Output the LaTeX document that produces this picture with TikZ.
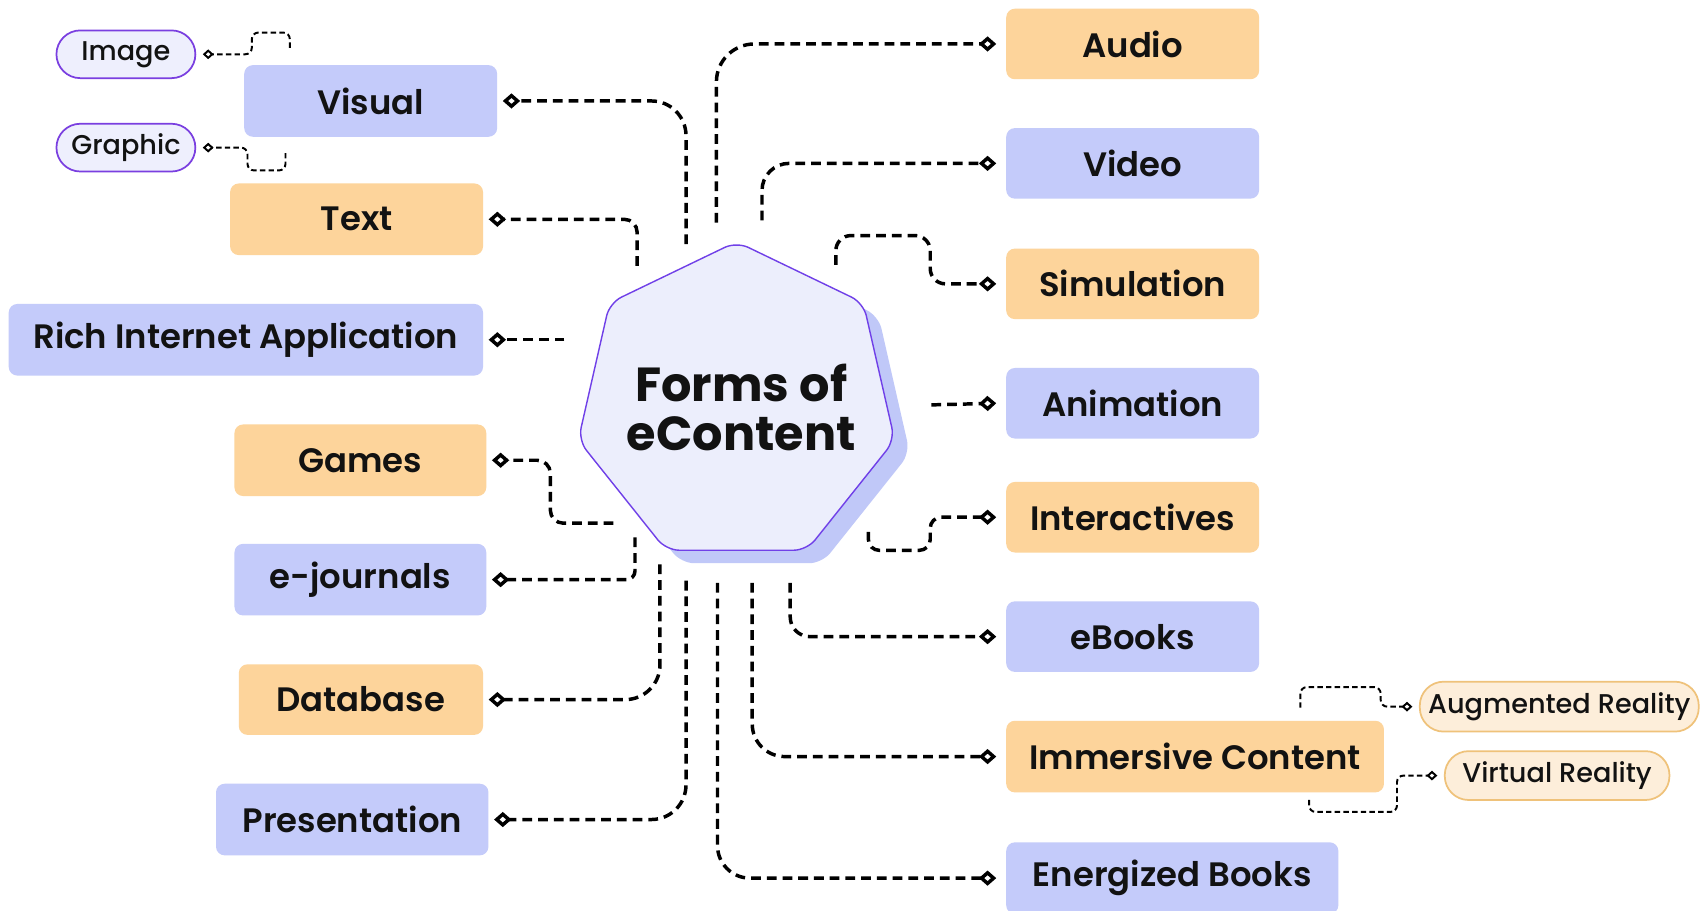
\documentclass[tikz,border=0pt]{standalone}
\usepackage{fontspec}
\setmainfont{Poppins}[UprightFont=* SemiBold, BoldFont=* Bold]
\newfontfamily\pillfont{Poppins}[UprightFont=* Medium]
\usetikzlibrary{shapes.geometric,arrows.meta}
\definecolor{boxblue}{HTML}{C4CBFA}
\definecolor{boxorange}{HTML}{FDD49B}
\definecolor{pilllav}{HTML}{EEEFFD}
\definecolor{pillpurple}{HTML}{7A3FE0}
\definecolor{pillcream}{HTML}{FDEEDA}
\definecolor{pillorange}{HTML}{EFC27A}
\definecolor{hubfill}{HTML}{ECEEFC}
\definecolor{hubline}{HTML}{7040E8}
\definecolor{hubshadow}{HTML}{C0C8F8}
\definecolor{ink}{HTML}{121212}
\tikzset{
  box/.style={rounded corners=8pt, inner sep=0pt, text=ink, font=\fontsize{31.2}{36}\selectfont},
  bluebox/.style={box, fill=boxblue},
  orangebox/.style={box, fill=boxorange},
  pill/.style={rounded corners=22pt, line width=1.6pt, inner sep=0pt, text=ink, font=\pillfont\fontsize{25}{29}\selectfont},
  pillL/.style={pill, draw=pillpurple, fill=pilllav},
  pillR/.style={pill, draw=pillorange, fill=pillcream},
  conn/.style={line width=3.2pt, dash pattern=on 9pt off 5.5pt, -{Diamond[open,length=16pt,width=14pt]}},
  thin/.style={line width=1.8pt, dash pattern=on 5pt off 3pt, -{Diamond[open,length=10pt,width=9pt]}},
}
\begin{document}
\begin{tikzpicture}[x=1pt,y=-1pt]
\useasboundingbox[fill=white] (0,0) rectangle (1568,839);
% hub
\node[regular polygon, regular polygon sides=7, minimum size=299pt, fill=hubshadow, rounded corners=12pt] (hubshadow) at (692.5,384.2) {};
\node[regular polygon, regular polygon sides=7, minimum size=299pt, fill=hubfill, draw=hubline, line width=1.3pt, rounded corners=12pt] (hub) at (678.5,372.2) {};
\node[text=ink, font=\bfseries\fontsize{44}{45}\selectfont, align=center] (title) at (683,375) {Forms of\\eContent};
% left boxes
\node[bluebox, minimum width=233pt, minimum height=66pt] (visual) at (341.5,93) {Visual};
\node[orangebox, minimum width=233pt, minimum height=66pt] (text) at (328.5,202) {Text};
\node[bluebox, minimum width=437pt, minimum height=66pt] (ria) at (226.5,313) {Rich Internet Application};
\node[orangebox, minimum width=232pt, minimum height=66pt] (games) at (332,424) {Games};
\node[bluebox, minimum width=232pt, minimum height=66pt] (ejournals) at (332,534) {e-journals};
\node[orangebox, minimum width=225pt, minimum height=65pt] (database) at (332.5,644.5) {Database};
\node[bluebox, minimum width=251pt, minimum height=66pt] (presentation) at (324.5,755) {Presentation};
% pills left
\node[pillL, minimum width=128pt, minimum height=44pt] (image) at (116,50) {Image};
\node[pillL, minimum width=128pt, minimum height=44pt] (graphic) at (116,136) {Graphic};
% right boxes
\node[orangebox, minimum width=233pt, minimum height=65pt] (audio) at (1043.5,40.5) {Audio};
\node[bluebox, minimum width=233pt, minimum height=65pt] (video) at (1043.5,150.5) {Video};
\node[orangebox, minimum width=233pt, minimum height=65pt] (simulation) at (1043.5,261.5) {Simulation};
\node[bluebox, minimum width=233pt, minimum height=65pt] (animation) at (1043.5,371.5) {Animation};
\node[orangebox, minimum width=233pt, minimum height=65pt] (interactives) at (1043.5,476.5) {Interactives};
\node[bluebox, minimum width=233pt, minimum height=65pt] (ebooks) at (1043.5,586.5) {eBooks};
\node[orangebox, minimum width=348pt, minimum height=66pt] (immersive) at (1101,697) {Immersive Content};
\node[bluebox, minimum width=306pt, minimum height=66pt] (energized) at (1080,809) {Energized Books};
% pills right
\node[pillR, minimum width=257pt, minimum height=46pt] (ar) at (1436.5,651) {Augmented Reality};
\node[pillR, minimum width=207pt, minimum height=45pt] (vr) at (1434.5,714.5) {Virtual Reality};
% connector start points near the hub
\coordinate (sVisual) at (632,225);
\coordinate (sText) at (587,245);
\coordinate (sRia) at (520,313);
\coordinate (sGames) at (565,482);
\coordinate (sEj) at (585,495);
\coordinate (sDb) at (608,520);
\coordinate (sPres) at (632,535);
\coordinate (sAudio) at (660,205);
\coordinate (sVideo) at (702,203);
\coordinate (sSim) at (770,244);
\coordinate (sAnim) at (858,373);
\coordinate (sInt) at (800,490);
\coordinate (sEb) at (728,537);
\coordinate (sImm) at (693,537);
\coordinate (sEn) at (661,537);
\coordinate (sImage) at (267,44);
\coordinate (sGraphic) at (263,141);
\coordinate (sAr) at (1198,652);
\coordinate (sVr) at (1206,737);
% left connectors
\draw[conn, rounded corners=32pt] (sVisual) |- ([xshift=5pt]visual.east);
\draw[conn, rounded corners=12pt] (sText) |- ([xshift=5pt]text.east);
\draw[conn] (sRia) -- ([xshift=5pt]ria.east);
\draw[conn, rounded corners=12pt] (sGames) -| (507,450) |- ([xshift=5pt]games.east);
\draw[conn, rounded corners=8pt] (sEj) |- ([xshift=5pt]ejournals.east);
\draw[conn, rounded corners=32pt] (sDb) |- ([xshift=5pt]database.east);
\draw[conn, rounded corners=32pt] (sPres) |- ([xshift=5pt]presentation.east);
% right connectors
\draw[conn, rounded corners=35pt] (sAudio) |- ([xshift=-9pt]audio.west);
\draw[conn, rounded corners=25pt] (sVideo) |- ([xshift=-9pt]video.west);
\draw[conn, rounded corners=14pt] (sSim) |- (857,217) |- ([xshift=-9pt]simulation.west);
\draw[conn] (sAnim) -- ([xshift=-9pt]animation.west);
\draw[conn, rounded corners=10pt] (sInt) |- (857,507) |- ([xshift=-9pt]interactives.west);
\draw[conn, rounded corners=18pt] (sEb) |- ([xshift=-9pt]ebooks.west);
\draw[conn, rounded corners=30pt] (sImm) |- ([xshift=-9pt]immersive.west);
\draw[conn, rounded corners=30pt] (sEn) |- ([xshift=-9pt]energized.west);
% sub connectors
\draw[thin, rounded corners=6pt] (sImage) |- (232,30) |- ([xshift=6pt]image.east);
\draw[thin, rounded corners=6pt] (sGraphic) |- (228,157) |- ([xshift=6pt]graphic.east);
\draw[thin, rounded corners=6pt] (sAr) |- (1272,633) |- ([xshift=-6pt]ar.west);
\draw[thin, rounded corners=6pt] (sVr) |- (1287,748) |- ([xshift=-6pt]vr.west);
\end{tikzpicture}
\end{document}
